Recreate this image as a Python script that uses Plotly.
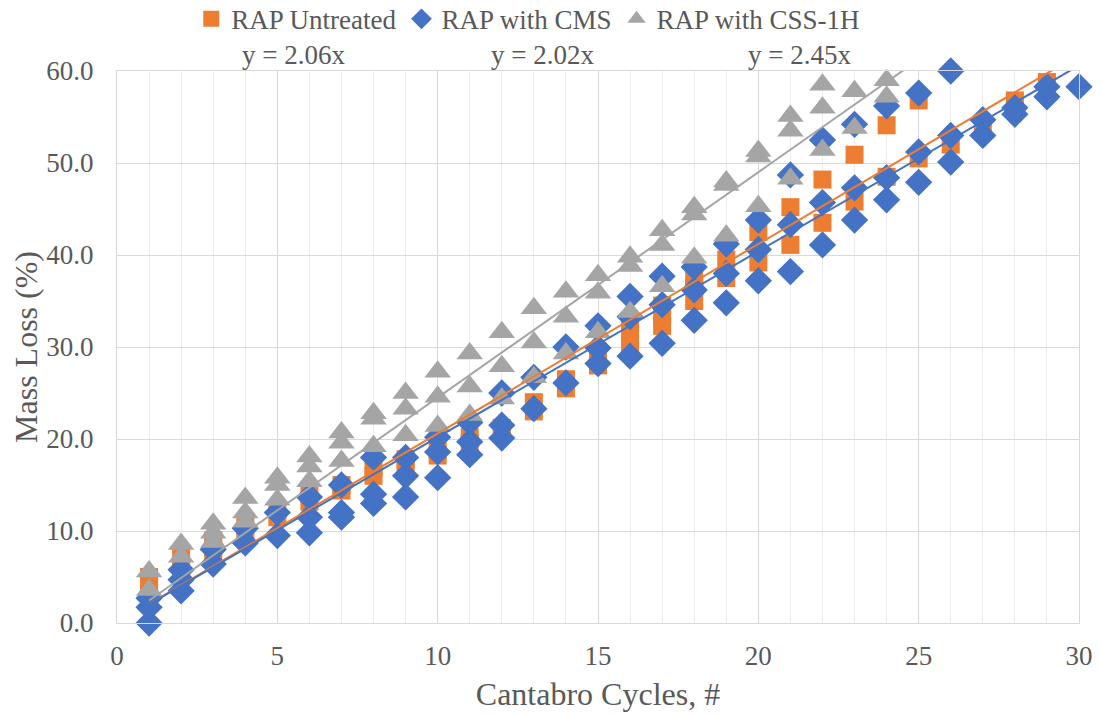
import plotly.graph_objects as go

# RAP Untreated
untreated_x = [1, 1, 1, 2, 2, 3, 3, 3, 4, 4, 5, 5, 6, 6, 7, 7, 8, 8, 9, 9, 10, 10,
               11, 11, 12, 12, 13, 13, 14, 14, 15, 15, 16, 16, 16, 17, 17, 17,
               18, 18, 18, 19, 19, 20, 20, 21, 21, 22, 22, 23, 23, 24, 24, 25, 25,
               26, 27, 28, 29]
untreated_y = [3.2, 4.2, 5.0, 6.0, 7.3, 7.5, 8.2, 9.0, 9.8, 10.6, 11.5, 12.3, 13.2, 14.0,
               14.4, 15.0, 16.0, 17.0, 17.0, 17.8, 18.2, 18.8, 19.5, 20.2, 20.8, 21.2,
               23.0, 24.0, 25.5, 26.5, 28.0, 29.5, 30.0, 31.3, 32.5, 32.3, 33.5, 34.5,
               35.0, 36.5, 37.5, 37.5, 39.5, 39.2, 42.5, 41.1, 45.2, 43.5, 48.2, 45.8, 50.9,
               48.5, 54.1, 50.5, 56.8, 52.0, 53.9, 56.8, 58.8]

# RAP with CMS
cms_x = [1, 1, 1, 2, 2, 2, 3, 3, 4, 4, 5, 5, 6, 6, 6, 7, 7, 7, 8, 8, 8, 9, 9, 9,
         10, 10, 10, 11, 11, 11, 12, 12, 12, 13, 13, 14, 14, 15, 15, 15, 16, 16, 16,
         17, 17, 17, 18, 18, 18, 19, 19, 19, 20, 20, 20, 21, 21, 21, 22, 22, 22,
         23, 23, 23, 24, 24, 24, 25, 25, 25, 26, 26, 26, 27, 27, 28, 28, 29, 29, 30]
cms_y = [0.0, 1.7, 2.7, 3.5, 4.7, 5.8, 6.4, 8.0, 8.7, 10.3, 9.5, 12.0, 9.8, 11.5, 13.7,
         11.5, 12.0, 15.0, 13.0, 14.0, 18.0, 13.7, 16.0, 18.0, 15.8, 18.6, 20.2,
         18.3, 19.7, 21.8, 20.1, 21.5, 25.0, 23.3, 26.7, 26.1, 30.0, 28.2, 29.9, 32.3,
         29.0, 33.3, 35.5, 30.4, 34.6, 37.7, 32.9, 36.2, 38.7, 34.8, 38.0, 41.2,
         37.2, 40.6, 43.8, 38.2, 43.3, 48.7, 41.1, 45.7, 52.5, 43.8, 47.3, 54.2,
         46.0, 48.4, 56.2, 47.9, 51.2, 57.6, 50.1, 53.0, 60.0, 53.0, 54.7, 55.3, 56.0,
         57.2, 58.3, 58.3]

# RAP with CSS-1H
css_x = [1, 1, 2, 2, 3, 3, 3, 4, 4, 4, 5, 5, 5, 6, 6, 6, 7, 7, 7, 8, 8, 8, 9, 9, 9,
         10, 10, 10, 11, 11, 11, 12, 12, 12, 13, 13, 13, 14, 14, 14, 15, 15, 15,
         16, 16, 16, 17, 17, 17, 18, 18, 18, 19, 19, 19, 20, 20, 20, 21, 21, 21,
         22, 22, 22, 23, 23, 24, 24]
css_y = [3.6, 5.6, 7.2, 8.6, 8.8, 9.8, 10.8, 11.0, 12.0, 13.6, 13.4, 15.0, 15.8,
         15.4, 17.0, 18.1, 17.6, 19.6, 20.7, 19.2, 22.2, 22.8, 20.4, 23.3, 25.0,
         21.4, 24.6, 27.3, 22.6, 25.7, 29.3, 24.4, 27.9, 31.6, 26.7, 30.5, 34.2,
         29.3, 33.3, 36.0, 31.6, 35.9, 37.8, 33.8, 38.8, 39.8, 36.6, 41.1, 42.7,
         39.7, 44.4, 45.2, 42.1, 47.6, 48.0, 45.3, 50.7, 51.3, 48.3, 53.5, 55.1,
         51.4, 56.0, 58.5, 53.8, 57.8, 57.2, 59.0]

names = ["RAP Untreated", "RAP with CMS", "RAP with CSS-1H"]
slopes = [2.06, 2.02, 2.45]
colors = ["#ED7D31", "#4472C4", "#A5A5A5"]
symbols = ["square", "diamond", "triangle-up"]
sizes = [18, 21, 23]
trend_x = [1, 30]

FONT = "Liberation Serif, Times New Roman, DejaVu Serif, serif"
TXT = "#595959"
FS = 27

fig = go.Figure()
for nm, xs, ys, c, s, sz in zip(names, [untreated_x, cms_x, css_x],
                                [untreated_y, cms_y, css_y], colors, symbols, sizes):
    fig.add_trace(go.Scatter(x=xs, y=ys, mode="markers", name=nm, cliponaxis=False,
                             marker=dict(symbol=s, size=sz, color=c, line=dict(width=0))))

for nm, k, c in zip(names, slopes, colors):
    fig.add_trace(go.Scatter(x=trend_x, y=[k * v for v in trend_x], mode="lines",
                             showlegend=False, hoverinfo="skip",
                             line=dict(color=c, width=2)))

eq_pos = [0.183, 0.442, 0.709]
for k, px in zip(slopes, eq_pos):
    fig.add_annotation(text="y = %.2fx" % k, x=px, y=1.029, xref="paper", yref="paper",
                       xanchor="center", yanchor="middle", showarrow=False,
                       font=dict(family=FONT, size=FS, color=TXT))

# page body has an 8px margin, so the figure is 8px smaller than the window
fig.update_layout(
    width=1093, height=706,
    margin=dict(l=109, r=22, t=63, b=91, autoexpand=False),
    paper_bgcolor="white", plot_bgcolor="white",
    font=dict(family=FONT, size=FS, color=TXT),
    legend=dict(orientation="h", xref="container", yref="container",
                x=0.476, xanchor="center", y=0.984, yanchor="middle",
                font=dict(family=FONT, size=FS, color=TXT), itemwidth=30,
                tracegroupgap=0),
    xaxis=dict(range=[0, 30], dtick=5, tick0=0, showgrid=True, gridcolor="#D9D9D9",
               gridwidth=1.3, zeroline=False, showline=True, linecolor="#D9D9D9",
               mirror=True, ticks="", ticklabelstandoff=9, automargin=False,
               minor=dict(dtick=1, showgrid=True, gridcolor="#EDEDED", gridwidth=1.3),
               title=dict(text="Cantabro Cycles, #", standoff=12)),
    yaxis=dict(range=[0, 60], dtick=10, tickformat=".1f", showgrid=True,
               gridcolor="#D9D9D9", gridwidth=1.3, zeroline=False, showline=True,
               linecolor="#D9D9D9", mirror=True, ticks="", ticklabelstandoff=17,
               automargin=False, title=dict(text="Mass Loss (%)", standoff=4)),
)

fig.write_html("out.html")
